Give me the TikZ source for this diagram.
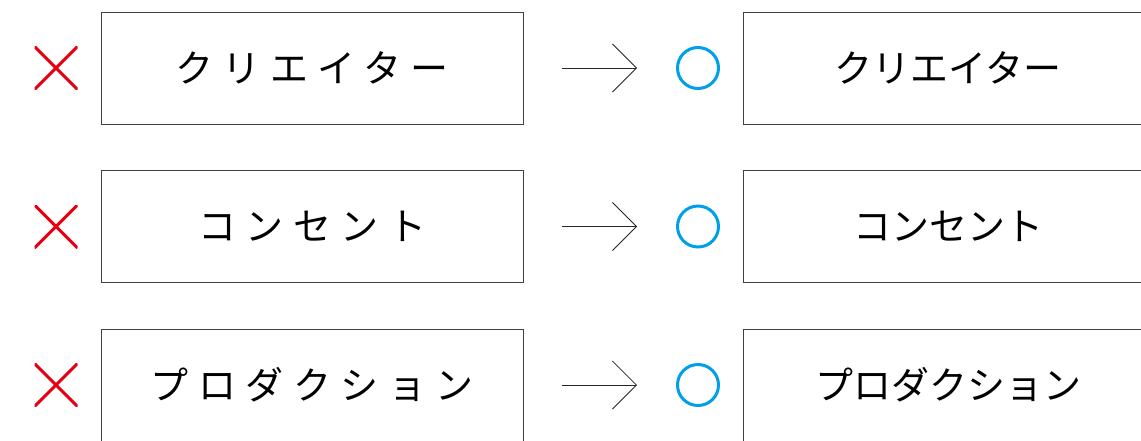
\documentclass[tikz,border=0pt]{standalone}
\usepackage{fontspec}
\usepackage{xcolor}
\usetikzlibrary{positioning,calc,arrows.meta}
\newfontfamily\jpfont{Noto Sans CJK JP}
\newfontfamily\jpwide{Noto Sans CJK JP}[LetterSpace=25]
\definecolor{ngred}{RGB}{230,0,18}
\definecolor{okblue}{RGB}{0,160,233}
\tikzset{
    oldbox/.style={draw=black!75, line width=1pt, minimum width=422pt, minimum height=112pt, inner sep=0pt, font=\jpwide\fontsize{38}{40}\selectfont},
    newbox/.style={draw=black!75, line width=1pt, minimum width=410pt, minimum height=112pt, inner sep=0pt, font=\jpfont\fontsize{38}{40}\selectfont},
    ngmark/.style={minimum size=43pt, inner sep=0pt, path picture={
        \draw[ngred, line width=3pt] (path picture bounding box.north west) -- (path picture bounding box.south east)
            (path picture bounding box.south west) -- (path picture bounding box.north east);}},
    okmark/.style={circle, draw=okblue, line width=3pt, minimum size=41pt, inner sep=0pt},
    change/.style={draw=black!85, line width=0.8pt, -{Straight Barb[length=24pt,width=48pt]}}
}
\begin{document}
\begin{tikzpicture}[x=1pt, y=-1pt]
    \useasboundingbox (0,0) rectangle (1141,440);
    \clip (0,0) rectangle (1141,440);

    % rows: before and after
    \foreach \row/\yy/\oldtext/\newtext in {1/68/クリエイター/クリエイター, 2/226.5/コンセント/コンセント, 3/385/プロダクション/プロダクション} {
        \node [ngmark] (ng\row) at (56,\yy) {};
        \node [oldbox] (old\row) at (312,\yy) {\oldtext};
        \coordinate (from\row) at (562,\yy);
        \coordinate (to\row) at (637,\yy);
        \draw [change] (from\row) -- (to\row);
        \node [okmark] (ok\row) at (698,\yy) {};
        \node [newbox] (new\row) at (948,\yy) {\newtext};
    }
\end{tikzpicture}
\end{document}
